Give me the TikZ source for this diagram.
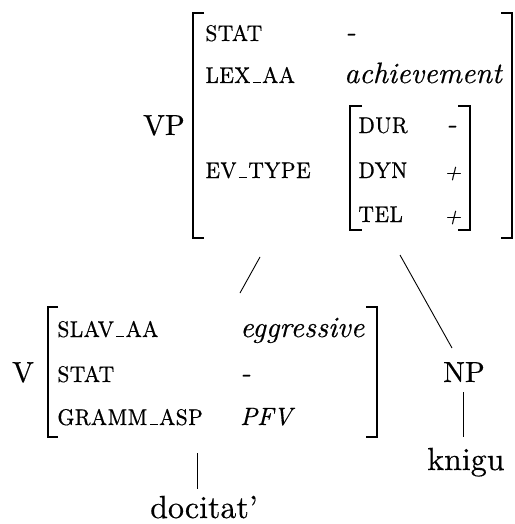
\documentclass[tikz,border=0pt]{standalone}
\usepackage{graphicx}
\usepackage{fontspec}
\setmainfont{lmroman10-regular.otf}[
  ItalicFont=lmroman10-italic.otf,
  SmallCapsFont=lmromancaps10-regular.otf,
  UprightFeatures={FakeBold=0.4},
  ItalicFeatures={FakeBold=0.4},
  SmallCapsFeatures={FakeBold=0.4}]
\newcommand\fus{\leavevmode\kern.08em\vbox{\hrule width .3em height 1pt}\kern.04em}
\newcommand\feattext[1]{\scalebox{1}[1.12]{#1}}
\begin{document}
\begin{tikzpicture}[x=1pt,y=-1pt,
  lbl/.style={anchor=base west,inner sep=0pt,font=\fontsize{29}{34}\selectfont},
  word/.style={anchor=base west,inner sep=0pt,font=\fontsize{32}{38}\selectfont},
  feat/.style={anchor=base west,inner sep=0pt,font=\fontsize{27}{32}\selectfont\scshape},
  val/.style={anchor=base west,inner sep=0pt,font=\fontsize{29.5}{35}\selectfont\itshape},
  sign/.style={anchor=base west,inner sep=0pt,font=\fontsize{22}{26}\selectfont\itshape},
  brk/.style={line width=2.4pt},
  branch/.style={line width=0.9pt}]
\useasboundingbox (0,0) rectangle (514,524);

% ---- VP feature matrix ----
\node[lbl]  (vp)      at (143,135) {VP};
\node[feat] (vpstat)  at (205,41)  {\feattext{stat}};
\node[val]  (vpstatv) at (345,41)  {-};
\node[feat] (vplex)   at (205,83)  {\feattext{lex\fus aa}};
\node[val]  (vplexv)  at (344,83)  {achievement};
\node[feat] (vpev)    at (205,178) {\feattext{ev\fus type}};
\node[feat] (dur)     at (358,133) {\feattext{dur}};
\node[val]  (durv)    at (446,133) {-};
\node[feat] (dyn)     at (358,178) {\feattext{dyn}};
\node[sign] (dynv)    at (444,179) {+};
\node[feat] (tel)     at (358,222) {\feattext{tel}};
\node[sign] (telv)    at (444,223) {+};
\draw[brk] (204,13) -- (193,13) -- (193,238) -- (204,238);
\draw[brk] (501,13) -- (512,13) -- (512,238) -- (501,238);
\draw[brk] (362,106) -- (350,106) -- (350,230) -- (362,230);
\draw[brk] (458,106) -- (470,106) -- (470,230) -- (458,230);

% ---- V feature matrix ----
\node[lbl]  (v)       at (12,382)  {V};
\node[feat] (vslav)   at (57,337)  {\feattext{slav\fus aa}};
\node[val]  (vslavv)  at (240,337) {eggressive};
\node[feat] (vstat)   at (57,382)  {\feattext{stat}};
\node[val]  (vstatv)  at (240,382) {-};
\node[feat] (vgramm)  at (57,425)  {\feattext{gramm\fus asp}};
\node[val,font=\fontsize{25}{30}\selectfont\itshape] (vgrammv) at (240,425) {PFV};
\draw[brk] (58,307) -- (48,307) -- (48,437) -- (58,437);
\draw[brk] (366,307) -- (377,307) -- (377,437) -- (366,437);

% ---- NP and the words ----
\node[lbl]  (np)    at (443,382) {NP};
\node[word] (knigu) at (427,470) {knigu};
\node[word] (doc)   at (150,518) {docitat'};

% ---- branches ----
\coordinate (vp-l)   at (260,257);
\coordinate (v-top)  at (240,293);
\coordinate (vp-r)   at (400,255);
\coordinate (np-top) at (452,348);
\coordinate (np-bot) at (463,392);
\coordinate (kn-top) at (463,437);
\coordinate (v-bot)  at (197,453);
\coordinate (doc-top) at (197,489);
\draw[branch] (vp-l) -- (v-top);
\draw[branch] (vp-r) -- (np-top);
\draw[branch] (np-bot) -- (kn-top);
\draw[branch] (v-bot) -- (doc-top);
\end{tikzpicture}
\end{document}
